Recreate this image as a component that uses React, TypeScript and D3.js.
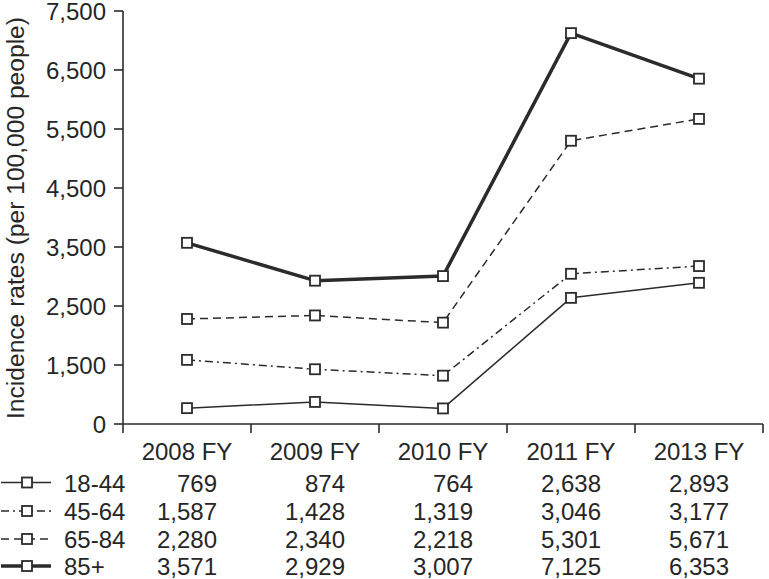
import React from "react";
import * as d3 from "d3";

const categories = ["2008 FY", "2009 FY", "2010 FY", "2011 FY", "2013 FY"];
const seriesNames = ["18-44", "45-64", "65-84", "85+"];
const s1844 = [769, 874, 764, 2638, 2893];
const s4564 = [1587, 1428, 1319, 3046, 3177];
const s6584 = [2280, 2340, 2218, 5301, 5671];
const s85 = [3571, 2929, 3007, 7125, 6353];
const yTickValues = [500, 1500, 2500, 3500, 4500, 5500, 6500, 7500];
const yTickLabels = ["0", "1,500", "2,500", "3,500", "4,500", "5,500", "6,500", "7,500"];
const yTitle = "Incidence rates (per 100,000 people)";

const W = 769;
const H = 579;
const FONT = "'Liberation Sans', Arial, Helvetica, sans-serif";
const INK = "#2b2b2b";
const TXT = "#262626";

const seriesData = [s1844, s4564, s6584, s85];
const styles = [
  { width: 1.5, dash: "" },
  { width: 1.5, dash: "8,4,2,4" },
  { width: 1.5, dash: "8,5" },
  { width: 3.5, dash: "" },
];

export default function App() {
  const x = d3.scaleBand<string>().domain(categories).range([123, 763]).padding(0);
  const y = d3.scaleLinear().domain([500, 7500]).range([424, 11]);
  const cx = (c: string) => (x(c) as number) + x.bandwidth() / 2;
  const line = d3
    .line<number>()
    .x((_, i) => cx(categories[i]))
    .y((d) => y(d));
  const fmt = d3.format(",");
  const rowBase = [491.5, 520, 548, 575];
  const xTicks = [...categories.map((c) => x(c) as number), 763];

  return (
    <svg
      width={W}
      height={H}
      style={{ position: "absolute", left: 0, top: 0, background: "#fff" }}
      fontFamily={FONT}
    >
      <rect x={0} y={0} width={W} height={H} fill="#fff" />
      {/* y axis */}
      <line x1={123} x2={123} y1={y(7500)} y2={424} stroke={INK} strokeWidth={1.6} />
      {yTickValues.map((v, i) => (
        <g key={v}>
          <line x1={114} x2={123} y1={y(v)} y2={y(v)} stroke={INK} strokeWidth={1.6} />
          <text
            x={106}
            y={y(v) + 8.5}
            textAnchor="end"
            fontSize={24}
            fill={TXT}
          >
            {yTickLabels[i]}
          </text>
        </g>
      ))}
      <text
        transform={`translate(24,${(11 + 425) / 2}) rotate(-90)`}
        textAnchor="middle"
        fontSize={24.6}
        fill={TXT}
      >
        {yTitle}
      </text>
      {/* x axis */}
      <line x1={123} x2={763} y1={424} y2={424} stroke={INK} strokeWidth={1.6} />
      {xTicks.map((t, i) => (
        <line key={i} x1={t} x2={t} y1={424} y2={433} stroke={INK} strokeWidth={1.6} />
      ))}
      {/* series */}
      {seriesData.map((s, si) => (
        <g key={si}>
          <path
            d={line(s) as string}
            fill="none"
            stroke={INK}
            strokeWidth={styles[si].width}
            strokeDasharray={styles[si].dash}
            strokeLinejoin="round"
          />
          {s.map((v, i) => (
            <rect
              key={i}
              x={cx(categories[i]) - 5}
              y={y(v) - 5}
              width={10}
              height={10}
              fill="#fff"
              stroke={INK}
              strokeWidth={1.8}
            />
          ))}
        </g>
      ))}
      {/* table header */}
      {categories.map((c) => (
        <text key={c} x={cx(c)} y={460} textAnchor="middle" fontSize={24} fill={TXT}>
          {c}
        </text>
      ))}
      {/* table rows */}
      {seriesData.map((s, si) => (
        <g key={si}>
          <line
            x1={1}
            x2={51}
            y1={rowBase[si] - 9}
            y2={rowBase[si] - 9}
            stroke={INK}
            strokeWidth={styles[si].width}
            strokeDasharray={styles[si].dash}
          />
          <rect
            x={22}
            y={rowBase[si] - 14}
            width={10}
            height={10}
            fill="#fff"
            stroke={INK}
            strokeWidth={1.8}
          />
          <text x={64} y={rowBase[si]} fontSize={24} fill={TXT}>
            {seriesNames[si]}
          </text>
          {s.map((v, i) => (
            <text
              key={i}
              x={cx(categories[i]) + 30}
              y={rowBase[si]}
              textAnchor="end"
              fontSize={24}
              fill={TXT}
            >
              {fmt(v)}
            </text>
          ))}
        </g>
      ))}
    </svg>
  );
}
